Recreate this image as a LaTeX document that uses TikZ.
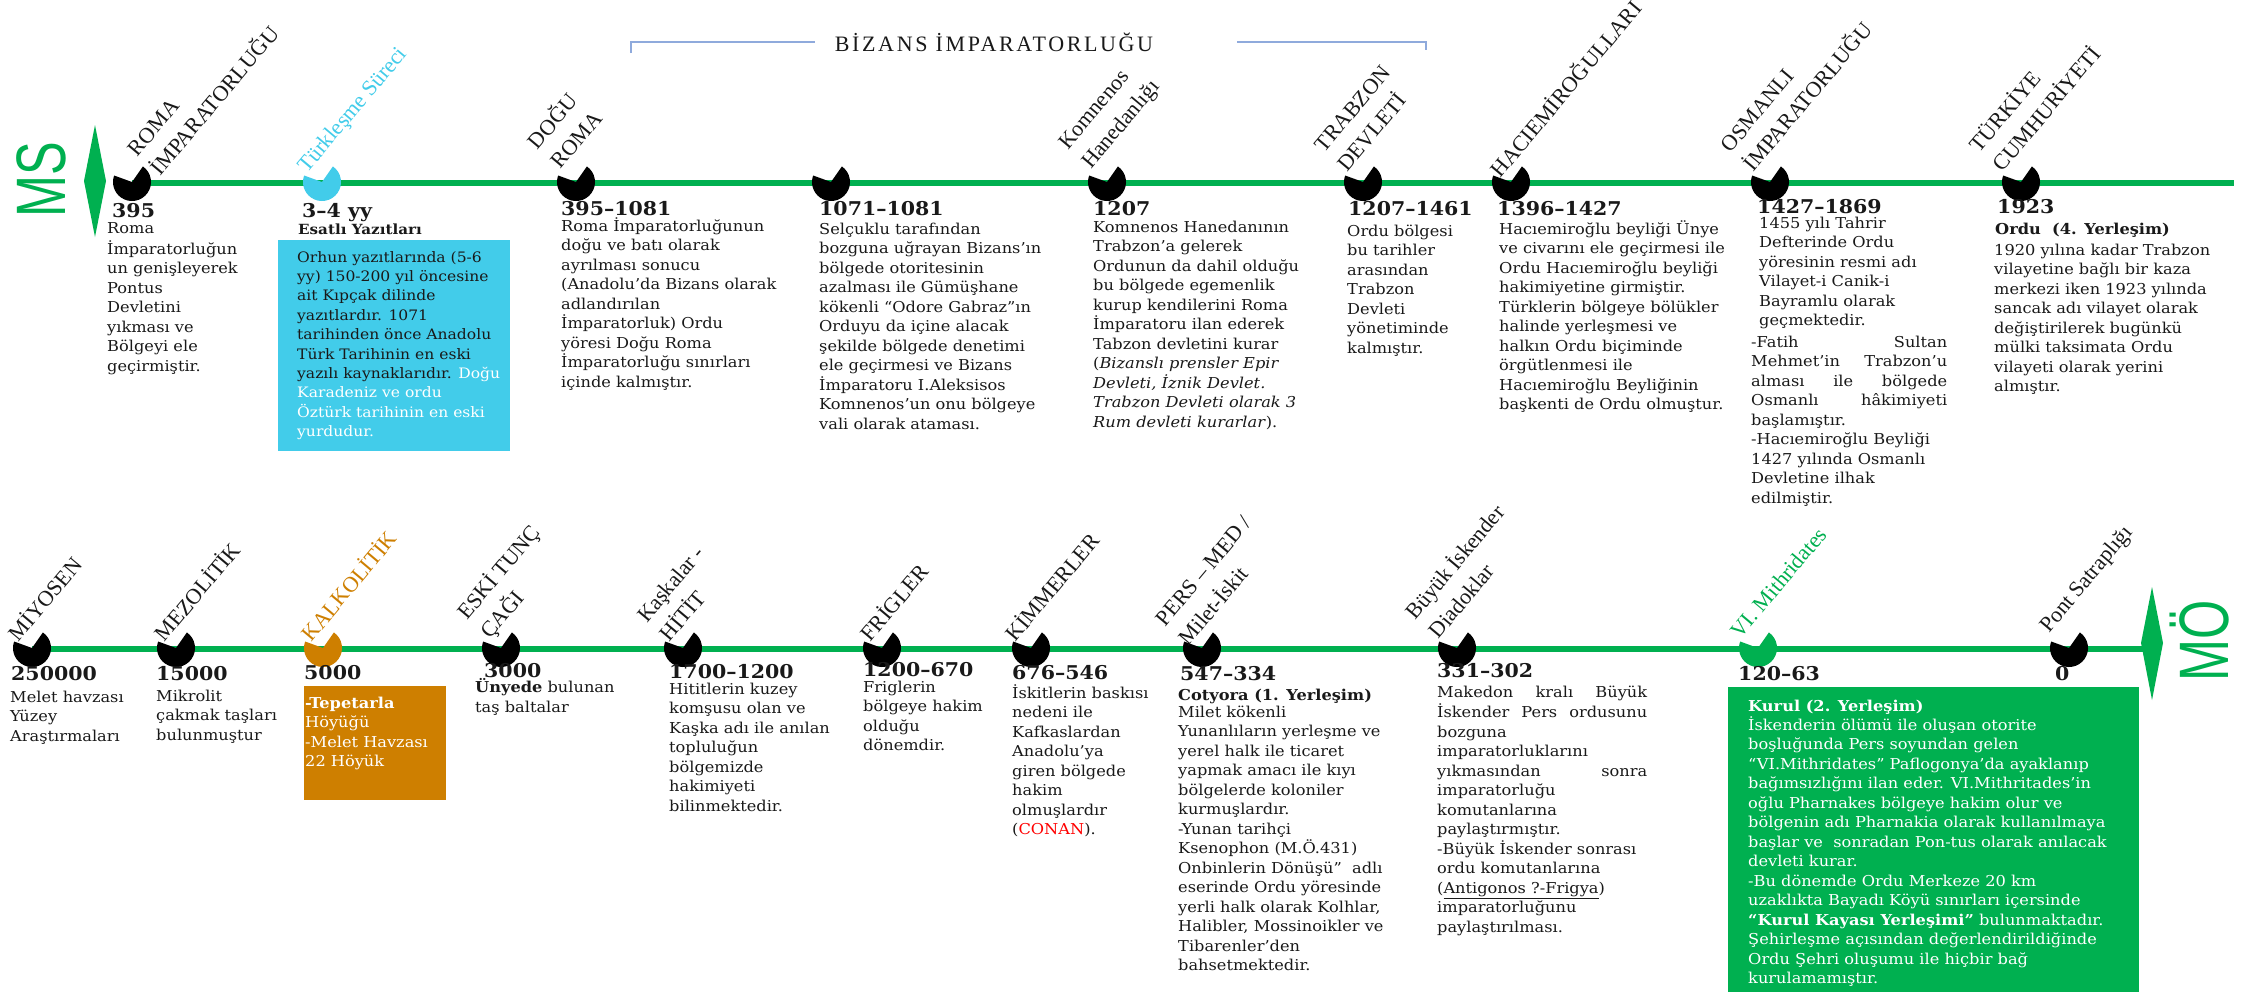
\documentclass[tikz,border=0pt]{standalone}
\usepackage{fontspec}
\setmainfont{DejaVu Serif}[FakeStretch=1.08]
\newfontfamily\lblfam{Liberation Serif}
\newfontfamily\bizfam{Liberation Serif}[LetterSpace=12]
\newfontfamily\msfam{Liberation Sans}[FakeStretch=0.72]
\definecolor{grn}{RGB}{0,176,80}
\definecolor{cyn}{RGB}{66,204,234}
\definecolor{org}{RGB}{206,127,0}
\definecolor{brk}{RGB}{143,170,220}
\definecolor{txt}{RGB}{25,25,25}
\definecolor{cred}{RGB}{255,0,0}
\newcommand\bodyfont{\fontsize{15}{19.5}\selectfont}
\newcommand\datefont{\fontsize{19}{22}\selectfont\bfseries}
\newcommand\subfont{\fontsize{15}{18}\selectfont\bfseries}
\newcommand\lblfont{\lblfam\fontsize{22}{30}\selectfont}
\newcommand\tlmark[3]{\fill[#3] (#1,#2) -- ++(55:19pt) arc[start angle=55,end angle=-200,radius=19pt] -- cycle;}
\newcommand\jl[2]{\hbox to #1pt{#2}}
\tikzset{
  bodytext/.style={anchor=north west, inner sep=0pt, align=left, font=\bodyfont, text=txt},
  datetext/.style={anchor=base west, inner sep=0pt, font=\datefont, text=txt},
  subtext/.style={anchor=base west, inner sep=0pt, font=\subfont, text=txt},
  lbltext/.style={anchor=south west, inner sep=0pt, align=left, rotate=50, font=\lblfont, text=txt},
  msnode/.style={inner sep=0pt, rotate=90, font=\msfam\fontsize{70}{70}\selectfont, text=grn},
  tline/.style={grn, line width=5.5pt},
  boxnode/.style={anchor=north west, inner sep=0pt, minimum width=#1},
}
\begin{document}
\begin{tikzpicture}[x=1pt,y=1pt]
\useasboundingbox (0,0) rectangle (2262,-994);
\fill[white] (0,0) rectangle (2262,-994);

% ---------- Bizans bracket ----------
\node[font=\bizfam\fontsize{22}{24}\selectfont, text=txt, anchor=base, inner sep=0pt] (biz) at (994,-51) {BİZANS İMPARATORLUĞU};
\coordinate (bl1) at (631,-53); \coordinate (bl2) at (631,-42); \coordinate (bl3) at (815,-42);
\coordinate (br1) at (1237,-42); \coordinate (br2) at (1426,-42); \coordinate (br3) at (1426,-50);
\draw[brk, line width=1.5pt] (bl1) -- (bl2) -- (bl3);
\draw[brk, line width=1.5pt] (br1) -- (br2) -- (br3);

% ---------- top timeline ----------
\coordinate (tA) at (132,-183); \coordinate (tB) at (2234,-183);
\draw[tline] (tA) -- (tB);
\fill[grn] (95,-125) -- (106,-181) -- (95,-237) -- (84,-181) -- cycle;
\node[msnode] (ms) at (41,-180) {MS};

\tlmark{132}{-182}{black}
\tlmark{322}{-182}{cyn}
\tlmark{576}{-182}{black}
\tlmark{831}{-182}{black}
\tlmark{1107}{-182}{black}
\tlmark{1363}{-182}{black}
\tlmark{1511}{-182}{black}
\tlmark{1770}{-182}{black}
\tlmark{2021}{-182}{black}

\node[lbltext] (lroma) at (161,-177) {ROMA\\İMPARATORLUĞU};
\node[lbltext, text=cyn] (lturk) at (311,-177) {Türkleşme Süreci};
\node[lbltext] (ldr) at (561,-170) {DOĞU\\ROMA};
\node[lbltext] (lkom) at (1095,-173) {Komnenos\\Hanedanlığı};
\node[lbltext] (ltrb) at (1348,-173) {TRABZON\\DEVLETİ};
\node[lbltext] (lhac) at (1501,-179) {HACIEMİROĞULLARI};
\node[lbltext] (losm) at (1754,-173) {OSMANLI\\İMPARATORLUĞU};
\node[lbltext] (ltc) at (2003,-173) {TÜRKİYE\\CUMHURİYETİ};

\node[datetext] (d395) at (112,-217) {395};
\node[datetext] (d34) at (302,-217) {3–4 yy};
\node[datetext] (d3951081) at (561,-215) {395–1081};
\node[datetext] (d1071) at (819,-215) {1071–1081};
\node[datetext] (d1207) at (1093,-215) {1207};
\node[datetext] (d12071461) at (1348,-215) {1207–1461};
\node[datetext] (d1396) at (1497,-215) {1396–1427};
\node[datetext] (d1427) at (1757,-213) {1427–1869};
\node[datetext] (d1923) at (1997,-213) {1923};

\node[bodytext] (b395) at (107,-219.5) {\strut Roma\\İmparatorluğun\\un genişleyerek\\Pontus\\Devletini\\yıkması ve\\Bölgeyi ele\\geçirmiştir.};

\node[subtext, font=\fontsize{14}{17}\selectfont\bfseries] (esat) at (298,-234.5) {Esatlı Yazıtları};
\node[boxnode=232pt, minimum height=211pt, fill=cyn] (cbox) at (278,-240) {};
\node[bodytext, font=\fontsize{14.4}{19.4}\selectfont] (bcyan) at (297,-248.4) {\strut Orhun yazıtlarında (5-6\\yy) 150-200 yıl öncesine\\ait Kıpçak dilinde\\yazıtlardır. 1071\\tarihinden önce Anadolu\\Türk Tarihinin en eski\\yazılı kaynaklarıdır. \textcolor{white}{Doğu}\\\textcolor{white}{Karadeniz ve ordu}\\\textcolor{white}{Öztürk tarihinin en eski}\\\textcolor{white}{yurdudur.}};

\node[bodytext] (bdr) at (561,-217.4) {\strut Roma İmparatorluğunun\\doğu ve batı olarak\\ayrılması sonucu\\(Anadolu’da Bizans olarak\\adlandırılan\\İmparatorluk) Ordu\\yöresi Doğu Roma\\İmparatorluğu sınırları\\içinde kalmıştır.};

\node[bodytext] (b1071) at (819,-220.4) {\strut Selçuklu tarafından\\bozguna uğrayan Bizans’ın\\bölgede otoritesinin\\azalması ile Gümüşhane\\kökenli “Odore Gabraz”ın\\Orduyu da içine alacak\\şekilde bölgede denetimi\\ele geçirmesi ve Bizans\\İmparatoru I.Aleksisos\\Komnenos’un onu bölgeye\\vali olarak ataması.};

\node[bodytext] (b1207) at (1093,-218.4) {\strut Komnenos Hanedanının\\Trabzon’a gelerek\\Ordunun da dahil olduğu\\bu bölgede egemenlik\\kurup kendilerini Roma\\İmparatoru ilan ederek\\Tabzon devletini kurar\\(\textit{Bizanslı prensler Epir}\\\textit{Devleti, İznik Devlet.}\\\textit{Trabzon Devleti olarak 3}\\\textit{Rum devleti kurarlar}).};

\node[bodytext] (b1461) at (1347,-222.4) {\strut Ordu bölgesi\\bu tarihler\\arasından\\Trabzon\\Devleti\\yönetiminde\\kalmıştır.};

\node[bodytext] (b1396) at (1499,-220.4) {\strut Hacıemiroğlu beyliği Ünye\\ve civarını ele geçirmesi ile\\Ordu Hacıemiroğlu beyliği\\hakimiyetine girmiştir.\\Türklerin bölgeye bölükler\\halinde yerleşmesi ve\\halkın Ordu biçiminde\\örgütlenmesi ile\\Hacıemiroğlu Beyliğinin\\başkenti de Ordu olmuştur.};

\node[bodytext] (bosm1) at (1759,-214.4) {\strut 1455 yılı Tahrir\\Defterinde Ordu\\yöresinin resmi adı\\Vilayet-i Canik-i\\Bayramlu olarak\\geçmektedir.};
\node[bodytext] (bosm2) at (1751,-333.4) {\strut\jl{196}{-Fatih\hfill Sultan}\\\jl{196}{Mehmet’in\hfill Trabzon’u}\\\jl{196}{alması\hfill ile\hfill bölgede}\\\jl{196}{Osmanlı\hfill hâkimiyeti}\\başlamıştır.\\-Hacıemiroğlu Beyliği\\1427 yılında Osmanlı\\Devletine ilhak\\edilmiştir.};

\node[subtext] (s1923) at (1995,-234) {Ordu\ \ (4. Yerleşim)};
\node[bodytext] (b1923) at (1994,-241.4) {\strut 1920 yılına kadar Trabzon\\vilayetine bağlı bir kaza\\merkezi iken 1923 yılında\\sancak adı vilayet olarak\\değiştirilerek bugünkü\\mülki taksimata Ordu\\vilayeti olarak yerini\\almıştır.};

% ---------- bottom timeline ----------
\coordinate (bA) at (32,-649); \coordinate (bB) at (2152,-649);
\draw[tline] (bA) -- (bB);
\fill[grn] (2152,-587) -- (2163,-643) -- (2152,-700) -- (2141,-643) -- cycle;
\node[msnode] (mo) at (2200,-641) {MÖ};

\tlmark{32}{-648}{black}
\tlmark{176}{-648}{black}
\tlmark{323}{-648}{org}
\tlmark{501}{-648}{black}
\tlmark{683}{-648}{black}
\tlmark{882}{-648}{black}
\tlmark{1031}{-648}{black}
\tlmark{1202}{-648}{black}
\tlmark{1457}{-648}{black}
\tlmark{1758}{-648}{grn}
\tlmark{2069}{-648}{black}

\node[lbltext] (lmiy) at (19,-643) {MİYOSEN};
\node[lbltext] (lmez) at (165,-643) {MEZOLİTİK};
\node[lbltext, text=org] (lkal) at (312,-643) {KALKOLİTİK};
\node[lbltext] (lesk) at (494,-643) {ESKİ TUNÇ\\ÇAĞI};
\node[lbltext] (lhit) at (670,-643) {Kaşkalar -\\HİTİT};
\node[lbltext] (lfri) at (871,-643) {FRİGLER};
\node[lbltext] (lkim) at (1016,-643) {KİMMERLER};
\node[lbltext] (lpers) at (1189,-647) {PERS – MED /\\Milet-İskit};
\node[lbltext] (lisk) at (1439,-640) {Büyük İskender\\Diadoklar};
\node[lbltext, text=grn] (lvi) at (1741,-640) {VI. Mithridates};
\node[lbltext] (lpont) at (2053,-637) {Pont Satraplığı};

\node[datetext] (d250000) at (11,-680) {250000};
\node[datetext] (d15000) at (156,-680) {15000};
\node[datetext] (d5000) at (304,-679) {5000};
\node[datetext] (d3000) at (484,-677) {3000};
\node[datetext] (d1700) at (669,-678) {1700–1200};
\node[datetext] (d1200) at (863,-676) {1200–670};
\node[datetext] (d676) at (1012,-679) {676–546};
\node[datetext] (d547) at (1180,-680) {547–334};
\node[datetext] (d331) at (1437,-677) {331–302};
\node[datetext] (d120) at (1738,-680) {120–63};
\node[datetext] (d0) at (2055,-680) {0};

\node[bodytext] (b250000) at (10,-688.4) {\strut Melet havzası\\Yüzey\\Araştırmaları};
\node[bodytext] (b15000) at (156,-687.4) {\strut Mikrolit\\çakmak taşları\\bulunmuştur};
\node[boxnode=142pt, minimum height=114pt, fill=org] (obox) at (304,-686) {};
\node[bodytext, text=white] (b5000) at (305,-694.4) {\strut\textbf{-Tepetarla}\\Höyüğü\\-Melet Havzası\\22 Höyük};
\node[bodytext] (b3000) at (475,-678.4) {\strut\textbf{Ünyede} bulunan\\taş baltalar};
\node[bodytext] (b1700) at (669,-680.4) {\strut Hititlerin kuzey\\komşusu olan ve\\Kaşka adı ile anılan\\topluluğun\\bölgemizde\\hakimiyeti\\bilinmektedir.};
\node[bodytext] (b1200) at (863,-678.4) {\strut Friglerin\\bölgeye hakim\\olduğu\\dönemdir.};
\node[bodytext] (b676) at (1012,-684.4) {\strut İskitlerin baskısı\\nedeni ile\\Kafkaslardan\\Anadolu’ya\\giren bölgede\\hakim\\olmuşlardır\\(\textcolor{cred}{CONAN}).};
\node[subtext] (s547) at (1178,-700) {Cotyora (1. Yerleşim)};
\node[bodytext] (b547) at (1178,-703.4) {\strut Milet kökenli\\Yunanlıların yerleşme ve\\yerel halk ile ticaret\\yapmak amacı ile kıyı\\bölgelerde koloniler\\kurmuşlardır.\\-Yunan tarihçi\\Ksenophon (M.Ö.431)\\Onbinlerin Dönüşü”\ \ adlı\\eserinde Ordu yöresinde\\yerli halk olarak Kolhlar,\\Halibler, Mossinoikler ve\\Tibarenler’den\\bahsetmektedir.};
\node[bodytext] (b331) at (1437,-683.4) {\strut\jl{210}{Makedon\hfill kralı\hfill Büyük}\\\jl{210}{İskender\hfill Pers\hfill ordusunu}\\bozguna\\imparatorluklarını\\\jl{210}{yıkmasından\hfill sonra}\\imparatorluğu\\komutanlarına\\paylaştırmıştır.\\-Büyük İskender sonrası\\ordu komutanlarına\\(\underline{Antigonos ?-Frigya})\\imparatorluğunu\\paylaştırılması.};

\node[boxnode=411pt, minimum height=305pt, fill=grn] (gbox) at (1728,-687) {};
\node[subtext, text=white] (s120) at (1748,-711) {Kurul (2. Yerleşim)};
\node[bodytext, text=white] (b120) at (1748,-716.4) {\strut İskenderin ölümü ile oluşan otorite\\boşluğunda Pers soyundan gelen\\“VI.Mithridates” Paflogonya’da ayaklanıp\\bağımsızlığını ilan eder. VI.Mithritades’in\\oğlu Pharnakes bölgeye hakim olur ve\\bölgenin adı Pharnakia olarak kullanılmaya\\başlar ve\ \ sonradan Pon-tus olarak anılacak\\devleti kurar.\\-Bu dönemde Ordu Merkeze 20 km\\uzaklıkta Bayadı Köyü sınırları içersinde\\\textbf{“Kurul Kayası Yerleşimi”} bulunmaktadır.\\Şehirleşme açısından değerlendirildiğinde\\Ordu Şehri oluşumu ile hiçbir bağ\\kurulamamıştır.};
\end{tikzpicture}
\end{document}
